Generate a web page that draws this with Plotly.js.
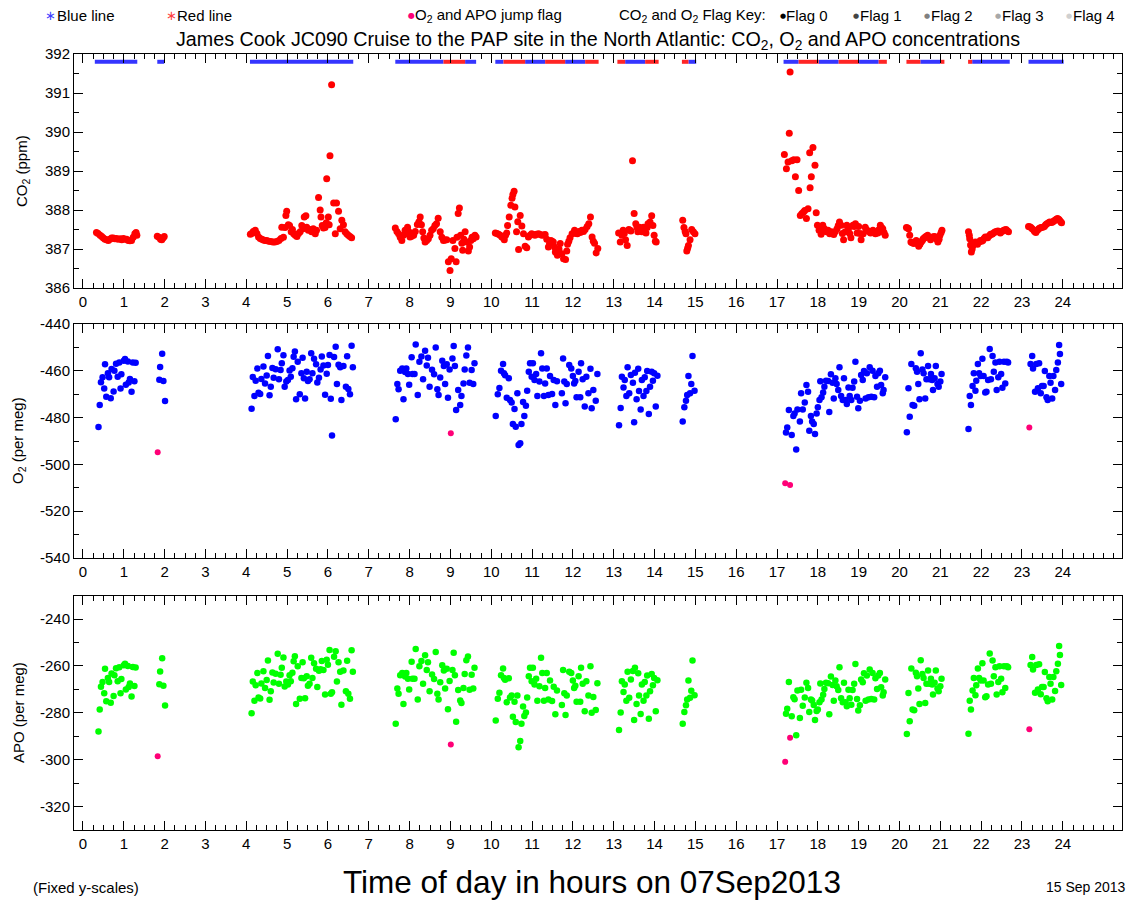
<!DOCTYPE html>
<html>
<head>
<meta charset="utf-8">
<script src="https://cdn.plot.ly/plotly-3.0.1.min.js"></script>
<style>
html,body{margin:0;padding:0;background:#fff;}
#chart{width:1129px;height:901px;}
</style>
</head>
<body>
<div id="chart"></div>
<script>
// ---------------- DATA ----------------
var co2Time = [
0.33,0.37,0.42,0.46,0.50,0.54,0.58,0.62,0.66,0.70,0.74,0.78,0.82,0.86,0.91,0.95,0.99,1.03,1.07,1.11,1.15,1.19,1.23,1.27,1.30,1.32,
1.82,1.86,1.90,1.93,1.96,1.99,
4.10,4.13,4.17,4.22,4.26,4.30,4.34,4.38,4.42,4.46,4.50,4.55,4.60,4.65,4.70,4.75,4.80,4.85,4.87,4.91,4.95,4.97,4.99,5.03,5.06,5.10,5.13,5.16,5.20,5.24,5.28,5.32,5.36,5.39,5.42,5.46,5.48,5.52,5.56,5.60,5.64,5.69,5.72,5.77,5.81,5.83,5.86,5.89,5.93,5.96,5.97,6.01,6.03,6.05,6.09,6.14,6.18,6.21,6.26,6.30,6.34,6.38,6.42,6.46,6.50,6.54,6.58,
7.65,7.69,7.73,7.77,7.81,7.85,7.89,7.92,7.95,7.98,8.01,8.05,8.10,8.14,8.19,8.23,8.26,8.29,8.32,8.35,8.38,8.42,8.46,8.50,8.54,8.58,8.62,8.66,8.70,8.75,8.79,8.83,8.87,8.91,8.95,8.99,9.02,9.06,9.11,9.14,9.16,9.19,9.22,9.25,9.28,9.30,9.33,9.36,9.40,9.44,9.47,9.50,9.53,9.56,9.60,9.63,
10.10,10.14,10.18,10.22,10.26,10.30,10.32,10.35,10.38,10.40,10.44,10.48,10.51,10.53,10.56,10.58,10.62,10.65,10.67,10.71,10.75,10.79,10.83,10.87,10.91,10.95,10.99,11.03,11.07,11.11,11.16,11.20,11.24,11.28,11.32,11.36,11.40,11.43,11.46,11.49,11.52,11.55,11.57,11.62,11.66,11.69,11.73,11.77,11.82,11.85,11.87,11.90,11.93,11.98,12.04,12.08,12.11,12.15,12.18,12.22,12.26,12.30,12.35,12.39,12.43,12.47,12.50,12.53,12.57,12.61,
13.12,13.16,13.20,13.23,13.26,13.29,13.33,13.37,13.40,13.42,13.46,13.50,13.54,13.57,13.59,13.63,13.66,13.69,13.73,13.76,13.79,13.82,13.84,13.89,13.93,13.96,13.99,14.02,14.04,
14.69,14.72,14.75,14.77,14.79,14.81,14.83,14.87,14.91,14.95,14.99,
17.18,17.23,17.27,17.30,17.32,17.36,17.41,17.45,17.49,17.53,17.57,17.61,17.65,17.68,17.72,17.76,17.80,17.81,17.84,17.88,17.93,17.96,17.99,18.03,18.06,18.08,18.12,18.16,18.19,18.21,18.25,18.29,18.33,18.36,18.39,18.43,18.47,18.50,18.53,18.57,18.60,18.63,18.67,18.71,18.75,18.78,18.81,18.86,18.89,18.92,18.96,19.00,19.03,19.06,19.11,19.16,19.19,19.22,19.26,19.29,19.32,19.35,19.38,19.41,19.44,19.47,19.50,19.53,19.56,19.59,19.62,19.65,
20.17,20.20,20.22,20.25,20.28,20.31,20.35,20.38,20.41,20.44,20.47,20.50,20.53,20.56,20.58,20.61,20.63,20.66,20.69,20.72,20.76,20.78,20.81,20.85,20.88,20.91,20.94,20.97,20.99,21.02,21.04,
21.69,21.71,21.72,21.74,21.76,21.78,21.80,21.83,21.86,21.89,21.91,21.95,21.98,22.01,22.04,22.07,22.10,22.13,22.16,22.20,22.23,22.26,22.28,22.32,22.35,22.38,22.41,22.44,22.47,22.51,22.55,22.58,22.61,22.64,22.67,
23.16,23.19,23.22,23.25,23.29,23.31,23.34,23.38,23.41,23.44,23.47,23.51,23.55,23.58,23.61,23.65,23.68,23.72,23.75,23.78,23.81,23.84,23.87,23.90,23.92,23.95,23.97
];
var co2Value = [
387.42,387.40,387.35,387.32,387.28,387.25,387.24,387.22,387.25,387.28,387.28,387.26,387.27,387.25,387.26,387.24,387.27,387.25,387.25,387.22,387.21,387.22,387.30,387.39,387.42,387.35,
387.33,387.30,387.25,387.24,387.28,387.32,
387.38,387.40,387.45,387.48,387.40,387.31,387.27,387.25,387.23,387.22,387.22,387.20,387.19,387.18,387.18,387.19,387.22,387.27,387.56,387.30,387.55,387.86,387.97,387.62,387.60,387.44,387.50,387.39,387.35,387.32,387.40,387.44,387.60,387.52,387.82,387.85,387.56,387.48,387.50,387.44,387.52,387.39,387.48,388.32,388.00,387.82,387.60,387.54,387.55,387.67,388.80,387.82,387.62,389.39,391.21,388.18,387.39,388.18,387.97,387.52,387.74,387.62,387.44,387.39,387.35,387.32,387.29,
387.54,387.45,387.39,387.30,387.22,387.35,387.48,387.40,387.56,387.45,387.31,387.33,387.35,387.45,387.63,387.70,387.82,387.62,387.44,387.28,387.18,387.22,387.26,387.35,387.48,387.52,387.60,387.65,387.79,387.44,387.30,387.22,387.23,387.24,386.67,386.45,386.75,387.22,387.01,386.67,387.30,387.91,388.05,387.35,387.15,386.97,387.25,387.44,387.18,386.95,387.05,387.22,387.30,387.26,387.35,387.31,
387.41,387.40,387.38,387.35,387.31,387.28,387.24,387.35,387.41,387.60,387.82,388.12,388.30,388.40,388.48,388.08,387.44,387.70,386.99,387.86,387.59,387.39,387.07,387.03,387.31,387.35,387.39,387.37,387.35,387.38,387.39,387.37,387.35,387.36,387.37,387.25,387.05,387.15,387.22,387.20,387.18,387.05,386.92,386.84,387.00,387.14,386.88,386.75,386.73,386.95,387.12,387.20,387.29,387.39,387.48,387.40,387.39,387.45,387.42,387.48,387.45,387.50,387.58,387.65,387.82,387.31,387.20,387.15,386.90,387.01,
387.41,387.18,387.35,387.48,387.40,387.24,387.09,387.50,387.48,387.46,389.26,387.91,387.65,387.55,387.44,387.56,387.50,387.44,387.56,387.50,387.41,387.55,387.65,387.69,387.85,387.60,387.35,387.20,387.18,
387.74,387.55,387.45,387.39,386.95,387.02,387.09,387.24,387.50,387.44,387.39,
389.42,389.06,389.23,389.97,391.54,389.26,389.29,388.85,389.29,388.50,387.86,387.91,387.95,387.99,387.78,388.03,389.47,388.57,388.85,389.60,389.15,387.93,387.61,387.48,387.55,387.38,387.61,387.52,387.47,387.44,387.48,387.39,387.44,387.40,387.37,387.45,387.52,387.60,387.69,387.61,387.40,387.24,387.44,387.61,387.52,387.40,387.29,387.61,387.58,387.65,387.41,387.58,387.40,387.24,387.39,387.56,387.50,387.46,387.45,387.41,387.45,387.48,387.44,387.39,387.42,387.41,387.50,387.61,387.55,387.52,387.42,387.35,
387.55,387.54,387.52,387.35,387.18,387.16,387.14,387.18,387.22,387.15,387.07,387.12,387.18,387.22,387.26,387.28,387.31,387.33,387.35,387.30,387.24,387.28,387.31,387.32,387.31,387.25,387.18,387.25,387.35,387.42,387.48,
387.44,387.35,387.26,387.10,386.92,387.00,387.09,387.15,387.18,387.14,387.12,387.18,387.22,387.20,387.22,387.27,387.31,387.30,387.29,387.34,387.38,387.38,387.39,387.42,387.44,387.45,387.46,387.44,387.41,387.45,387.48,387.49,387.50,387.47,387.44,
387.58,387.57,387.55,387.52,387.48,387.45,387.42,387.48,387.52,387.54,387.55,387.56,387.58,387.62,387.65,387.67,387.69,387.68,387.69,387.72,387.74,387.76,387.78,387.76,387.74,387.70,387.67
];

var o2Time = [
0.38,0.41,0.44,0.48,0.52,0.54,0.57,0.61,0.64,0.68,0.70,0.75,0.77,0.81,0.85,0.89,0.92,0.94,1.00,1.03,1.05,1.10,1.12,1.15,1.19,1.22,1.26,1.29,
1.87,1.89,1.94,1.97,2.01,
4.13,4.16,4.20,4.23,4.27,4.30,4.34,4.37,4.42,4.46,4.50,4.53,4.57,4.60,4.64,4.67,4.72,4.77,4.80,4.84,4.87,4.91,4.94,4.98,5.02,5.06,5.09,5.13,5.16,5.19,5.22,5.26,5.31,5.35,5.38,5.41,5.44,5.48,5.51,5.55,5.59,5.62,5.66,5.71,5.74,5.78,5.82,5.85,5.89,5.93,5.97,6.00,6.04,6.07,6.10,6.15,6.19,6.22,6.26,6.30,6.33,6.38,6.44,6.47,6.50,6.54,6.58,6.61,
7.66,7.70,7.73,7.77,7.82,7.85,7.89,7.92,7.96,7.99,8.05,8.07,8.12,8.15,8.20,8.24,8.29,8.33,8.38,8.42,8.45,8.49,8.55,8.60,8.64,8.68,8.71,8.75,8.80,8.84,8.87,8.91,8.94,8.98,9.05,9.08,9.11,9.14,9.19,9.24,9.27,9.32,9.35,9.39,9.43,9.47,9.52,9.56,9.59,
10.11,10.16,10.20,10.24,10.29,10.31,10.34,10.38,10.43,10.46,10.50,10.53,10.57,10.60,10.64,10.67,10.71,10.74,10.78,10.81,10.85,10.88,10.92,10.95,10.99,11.02,11.06,11.10,11.13,11.18,11.22,11.25,11.29,11.32,11.36,11.40,11.44,11.49,11.53,11.57,11.61,11.73,11.76,11.79,11.82,11.85,11.91,11.96,12.00,12.03,12.06,12.09,12.14,12.18,12.20,12.24,12.29,12.33,12.38,12.43,12.46,12.50,12.56,12.60,
13.13,13.17,13.20,13.24,13.27,13.31,13.34,13.38,13.42,13.47,13.50,13.52,13.56,13.60,13.62,13.66,13.69,13.73,13.76,13.80,13.82,13.86,13.89,13.93,13.96,13.99,14.03,14.07,
14.69,14.73,14.77,14.80,14.83,14.87,14.90,14.93,14.98,
17.22,17.25,17.29,17.36,17.40,17.43,17.47,17.50,17.56,17.59,17.63,17.68,17.72,17.76,17.79,17.83,17.86,17.90,17.93,17.97,18.00,18.04,18.06,18.09,18.13,18.16,18.20,18.25,18.28,18.32,18.36,18.39,18.43,18.46,18.50,18.53,18.57,18.61,18.64,18.68,18.71,18.75,18.78,18.82,18.85,18.89,18.92,18.96,18.99,19.03,19.06,19.10,19.13,19.17,19.20,19.24,19.27,19.31,19.34,19.38,19.41,19.45,19.48,19.52,19.55,19.59,19.61,19.65,
20.18,20.22,20.25,20.29,20.32,20.36,20.40,20.43,20.46,20.49,20.52,20.56,20.59,20.63,20.66,20.70,20.73,20.77,20.80,20.82,20.86,20.89,20.93,20.96,21.00,21.03,
21.69,21.72,21.75,21.79,21.82,21.86,21.88,21.92,21.95,21.99,22.03,22.06,22.10,22.13,22.17,22.21,22.24,22.28,22.31,22.35,22.38,22.42,22.45,22.49,22.52,22.56,22.59,22.63,22.66,
23.21,23.25,23.27,23.32,23.35,23.39,23.42,23.46,23.49,23.53,23.56,23.60,23.63,23.67,23.70,23.74,23.77,23.81,23.84,23.88,23.91,23.93,23.96
];
var o2Value = [
-484.0,-474.6,-464.9,-462.8,-467.6,-457.2,-471.1,-461.1,-462.8,-471.7,-459.2,-468.8,-460.0,-457.0,-462.5,-456.5,-467.6,-461.5,-455.7,-455.0,-466.0,-456.0,-465.0,-463.5,-469.0,-456.4,-464.5,-456.6,
-463.8,-458.4,-452.7,-464.4,-472.9,
-476.2,-462.6,-470.8,-464.2,-459.0,-469.4,-469.9,-463.5,-458.2,-465.4,-462.0,-453.7,-470.4,-466.8,-458.8,-463.0,-459.3,-450.8,-463.6,-459.7,-456.8,-453.4,-466.8,-464.6,-463.9,-459.9,-462.5,-458.9,-454.0,-451.8,-472.2,-456.1,-470.0,-461.1,-454.4,-463.2,-471.8,-460.4,-464.4,-463.6,-452.5,-461.1,-454.8,-457.2,-465.0,-463.0,-459.4,-453.9,-457.7,-470.2,-461.3,-457.5,-453.2,-471.9,-487.7,-454.1,-449.7,-465.6,-457.4,-458.5,-472.5,-457.9,-466.8,-453.8,-467.8,-470.0,-449.3,-458.5,
-480.7,-465.6,-467.9,-460.0,-459.0,-472.2,-460.5,-459.0,-461.4,-466.0,-454.2,-461.4,-461.4,-448.8,-470.3,-456.1,-453.9,-463.6,-451.4,-457.7,-454.4,-466.8,-459.6,-461.5,-450.0,-467.9,-470.3,-462.9,-455.7,-457.9,-465.6,-457.2,-471.5,-459.4,-454.7,-449.4,-457.9,-476.8,-468.2,-474.6,-470.8,-465.4,-459.4,-453.5,-450.0,-465.1,-459.7,-465.6,-456.8,
-479.3,-470.0,-467.4,-460.0,-457.1,-461.1,-461.9,-471.5,-463.2,-472.5,-473.6,-482.7,-476.3,-483.9,-469.6,-491.7,-491.0,-482.7,-473.3,-479.3,-474.9,-468.5,-460.4,-456.8,-462.5,-456.8,-463.9,-461.4,-470.8,-464.6,-452.5,-459.0,-470.8,-465.4,-459.0,-470.3,-462.2,-469.9,-463.9,-474.6,-464.5,-469.6,-454.7,-464.6,-473.9,-465.6,-457.5,-459.0,-462.2,-465.4,-464.4,-471.3,-460.4,-471.3,-456.8,-463.6,-475.3,-462.5,-469.6,-459.1,-476.0,-468.2,-472.8,-461.4,
-483.3,-475.9,-462.5,-467.1,-463.9,-470.8,-458.5,-469.6,-461.8,-465.1,-482.0,-460.8,-472.2,-459.1,-468.6,-476.5,-463.9,-470.8,-462.8,-468.6,-460.1,-478.5,-466.8,-460.4,-464.2,-461.1,-475.3,-462.1,
-481.7,-475.6,-472.8,-470.3,-462.2,-469.6,-465.6,-453.7,-468.5,
-486.4,-484.2,-476.8,-487.4,-479.3,-478.2,-493.6,-476.5,-481.7,-469.6,-476.5,-473.5,-466.1,-468.9,-485.6,-479.3,-481.7,-482.7,-487.0,-478.2,-475.6,-472.5,-464.5,-471.3,-469.3,-466.8,-464.2,-464.4,-477.6,-461.5,-465.1,-471.8,-463.2,-465.6,-468.2,-458.5,-470.8,-472.5,-463.2,-472.5,-474.2,-467.1,-470.8,-472.5,-467.2,-464.6,-456.1,-471.1,-476.0,-472.8,-461.8,-463.9,-460.1,-471.8,-461.1,-471.3,-458.5,-471.1,-460.0,-471.3,-462.2,-466.8,-461.1,-460.0,-466.1,-469.6,-468.2,-462.8,
-486.3,-467.5,-479.6,-457.1,-474.6,-474.9,-458.9,-460.4,-465.6,-472.2,-452.5,-459.4,-461.1,-471.8,-463.6,-457.9,-463.6,-461.4,-463.9,-468.2,-463.2,-457.9,-465.6,-466.8,-464.6,-461.4,
-484.9,-470.8,-474.6,-466.5,-461.1,-468.5,-464.2,-457.1,-461.1,-462.2,-454.8,-462.2,-469.3,-468.9,-463.9,-450.7,-463.6,-453.7,-460.4,-456.5,-468.2,-462.8,-456.1,-461.4,-467.2,-456.1,-465.4,-456.1,-456.5,
-457.1,-453.7,-459.0,-468.9,-457.1,-467.5,-456.8,-469.6,-466.5,-466.5,-460.1,-471.3,-472.5,-462.2,-465.1,-471.8,-462.2,-468.2,-459.7,-456.5,-449.0,-452.8,-465.6
];
var apoValue = [
-288.0,-278.6,-268.9,-266.8,-271.6,-261.2,-275.1,-265.1,-266.8,-275.7,-263.2,-272.8,-264.0,-261.0,-266.5,-260.5,-271.6,-265.5,-259.7,-259.0,-270.0,-260.0,-269.0,-267.5,-273.0,-260.4,-268.5,-260.6,
-267.8,-262.4,-256.7,-268.4,-276.9,
-280.2,-266.6,-274.8,-268.2,-263.0,-273.4,-273.9,-267.5,-262.2,-269.4,-266.0,-257.7,-274.4,-270.8,-262.8,-267.0,-263.3,-254.8,-267.6,-263.7,-260.8,-256.4,-268.8,-266.6,-267.9,-263.9,-266.5,-262.9,-258.0,-255.8,-276.2,-260.1,-274.0,-265.1,-258.4,-265.2,-273.8,-264.4,-268.4,-267.6,-256.5,-265.1,-258.8,-261.2,-269.0,-262.0,-261.4,-257.9,-261.7,-272.2,-257.3,-259.5,-253.2,-271.9,-271.2,-256.1,-253.7,-266.6,-258.4,-262.5,-276.5,-261.9,-270.8,-257.8,-271.8,-274.0,-253.3,-262.5,
-284.7,-269.6,-271.9,-264.0,-263.0,-276.2,-264.5,-263.0,-265.4,-270.0,-258.2,-265.4,-265.4,-252.8,-274.3,-260.1,-257.9,-267.6,-255.4,-261.7,-258.4,-270.8,-263.6,-265.5,-254.0,-271.9,-274.3,-266.9,-259.7,-261.9,-269.6,-261.2,-278.5,-266.4,-261.7,-254.4,-263.9,-283.8,-270.2,-274.7,-275.8,-269.4,-263.4,-257.5,-255.9,-270.1,-263.7,-269.6,-260.8,
-283.3,-274.0,-271.4,-264.0,-261.1,-265.1,-265.9,-275.5,-265.2,-273.5,-272.6,-281.7,-275.3,-283.9,-272.6,-294.7,-292.0,-284.7,-277.3,-281.3,-279.9,-273.5,-264.4,-260.8,-266.5,-260.8,-267.9,-265.4,-274.8,-268.6,-256.5,-263.0,-274.8,-269.4,-263.0,-274.3,-266.2,-274.9,-268.9,-280.6,-270.5,-276.6,-261.7,-271.6,-280.9,-272.6,-262.5,-263.0,-266.2,-269.4,-268.4,-275.3,-264.4,-275.3,-260.8,-267.6,-279.3,-266.5,-272.6,-260.1,-280.0,-273.2,-278.8,-267.4,
-287.3,-279.9,-266.5,-271.1,-267.9,-274.8,-262.5,-273.6,-265.8,-262.1,-283.0,-260.8,-276.2,-263.1,-272.6,-280.5,-267.9,-274.8,-266.8,-272.6,-264.1,-282.5,-270.8,-263.4,-268.2,-265.1,-279.3,-266.1,
-284.7,-279.6,-276.8,-274.3,-266.2,-273.6,-270.6,-257.7,-272.5,
-280.4,-278.2,-266.8,-281.4,-273.3,-274.2,-289.6,-270.5,-282.2,-270.1,-277.0,-273.5,-267.1,-269.4,-279.6,-274.3,-274.7,-276.7,-283.0,-279.2,-278.6,-275.5,-267.5,-274.3,-272.3,-269.8,-267.2,-267.4,-280.6,-264.5,-268.1,-274.8,-266.2,-268.6,-270.2,-260.5,-273.8,-275.5,-267.2,-275.5,-277.2,-270.1,-273.8,-276.5,-270.2,-267.6,-259.1,-274.1,-279.0,-276.8,-265.8,-266.9,-263.1,-274.8,-264.1,-274.3,-261.5,-274.1,-263.0,-274.3,-265.2,-269.8,-264.1,-263.0,-269.1,-272.6,-271.2,-265.8,
-289.0,-271.5,-283.6,-261.1,-278.6,-278.9,-262.9,-264.4,-269.6,-276.2,-257.5,-263.4,-265.1,-275.8,-267.6,-261.9,-267.6,-265.4,-267.9,-272.2,-267.2,-261.9,-269.6,-270.8,-268.6,-265.4,
-288.9,-274.8,-278.6,-270.5,-265.1,-272.5,-268.2,-261.1,-265.1,-266.2,-258.8,-266.2,-273.3,-272.9,-267.9,-254.7,-267.6,-257.7,-264.4,-260.5,-272.2,-266.8,-260.1,-265.4,-271.2,-260.1,-269.4,-260.1,-260.5,
-259.6,-256.2,-261.5,-271.4,-259.6,-270.0,-259.3,-272.1,-269.0,-269.0,-262.6,-273.8,-275.0,-264.7,-267.6,-274.3,-264.7,-270.7,-262.2,-259.0,-251.5,-255.3,-268.1
];

// O2 and APO jump flags
var jumpTime = [1.83, 9.01, 17.20, 17.32, 23.18];
var jumpO2 = [-494.8, -486.7, -508.1, -508.8, -484.2];
var jumpAPO = [-298.5, -293.5, -300.9, -290.6, -287.0];

// Blue / red line indicator segments (hours)
var blueStart = [0.29,1.82,4.09,7.65,9.36,10.10,10.83,11.81,13.28,14.83,17.16,18.02,19.01,20.51,21.78,23.16];
var blueEnd   = [1.33,1.99,6.62,8.83,9.63,10.30,11.32,12.30,13.77,15.02,17.53,18.51,19.49,21.00,22.70,24.02];
var redStart  = [8.83,10.30,11.32,12.30,13.09,13.77,14.67,17.53,18.51,19.49,20.17,21.00,21.68];
var redEnd    = [9.36,10.83,11.81,12.63,13.28,14.10,14.83,18.02,19.01,19.69,20.51,21.10,21.78];
var indicatorLevel = 391.8;

// Tick values / labels
var hourTicks = [0,1,2,3,4,5,6,7,8,9,10,11,12,13,14,15,16,17,18,19,20,21,22,23,24];
var hourLabels = ['0','1','2','3','4','5','6','7','8','9','10','11','12','13','14','15','16','17','18','19','20','21','22','23','24'];
var co2Ticks = [386,387,388,389,390,391,392];
var co2Labels = ['386','387','388','389','390','391','392'];
var o2Ticks = [-540,-520,-500,-480,-460,-440];
var o2Labels = ['-540','-520','-500','-480','-460','-440'];
var apoTicks = [-320,-300,-280,-260,-240];
var apoLabels = ['-320','-300','-280','-260','-240'];

// ---------------- BUILD ----------------
function segXY(s, e, lvl) {
  var x = [], y = [];
  for (var i = 0; i < s.length; i++) { x.push(s[i], e[i], null); y.push(lvl, lvl, null); }
  return {x: x, y: y};
}
var bSeg = segXY(blueStart, blueEnd, indicatorLevel);
var rSeg = segXY(redStart, redEnd, indicatorLevel);

var FONT = 'Liberation Sans, Arial, Helvetica, sans-serif';
var traces = [
  {x: bSeg.x, y: bSeg.y, xaxis: 'x', yaxis: 'y', mode: 'lines', line: {color: '#3535ff', width: 4}, hoverinfo: 'skip'},
  {x: rSeg.x, y: rSeg.y, xaxis: 'x', yaxis: 'y', mode: 'lines', line: {color: '#ff2525', width: 4}, hoverinfo: 'skip'},
  {x: co2Time, y: co2Value, xaxis: 'x', yaxis: 'y', mode: 'markers', marker: {color: '#ff0000', size: 7}},
  {x: o2Time, y: o2Value, xaxis: 'x2', yaxis: 'y2', mode: 'markers', marker: {color: '#0000ff', size: 6.5}},
  {x: jumpTime, y: jumpO2, xaxis: 'x2', yaxis: 'y2', mode: 'markers', marker: {color: '#ff0077', size: 6}},
  {x: o2Time, y: apoValue, xaxis: 'x3', yaxis: 'y3', mode: 'markers', marker: {color: '#00ff00', size: 6.5}},
  {x: jumpTime, y: jumpAPO, xaxis: 'x3', yaxis: 'y3', mode: 'markers', marker: {color: '#ff0077', size: 6}}
];

function xAxis(anchor) {
  return {
    anchor: anchor, range: [-0.22, 25.45], tickmode: 'array', tickvals: hourTicks, ticktext: hourLabels,
    ticks: 'inside', ticklen: 9, tickwidth: 1, tickcolor: '#000',
    minor: {dtick: 0.25, tick0: 0, ticks: 'inside', ticklen: 5, tickwidth: 1, tickcolor: '#000'},
    showline: true, linecolor: '#000', linewidth: 1, mirror: 'ticks',
    showgrid: false, zeroline: false, fixedrange: true,
    tickfont: {family: FONT, size: 15, color: '#000'}
  };
}
function yAxis(domain, range, vals, labels, minor, anchor) {
  return {
    anchor: anchor, domain: domain, range: range, tickmode: 'array', tickvals: vals, ticktext: labels,
    ticks: 'inside', ticklen: 9, tickwidth: 1, tickcolor: '#000',
    minor: {dtick: minor, tick0: 0, ticks: 'inside', ticklen: 5, tickwidth: 1, tickcolor: '#000'},
    showline: true, linecolor: '#000', linewidth: 1, mirror: 'ticks',
    showgrid: false, zeroline: false, fixedrange: true,
    tickfont: {family: FONT, size: 15, color: '#000'}
  };
}

var L = 74, R = 1122, T = 54, B = 830;
function px(v) { return (v - L) / (R - L); }
function py(v) { return (B - v) / (B - T); }

function ann(text, x, y, opts) {
  var a = {text: text, xref: 'paper', yref: 'paper', x: px(x), y: py(y), showarrow: false,
           xanchor: 'left', yanchor: 'middle', font: {family: FONT, size: 15, color: '#000'}};
  for (var k in opts) a[k] = opts[k];
  return a;
}

var annotations = [
  ann('James Cook JC090 Cruise to the PAP site in the North Atlantic: CO<sub>2</sub>, O<sub>2</sub> and APO concentrations', 598, 40, {xanchor: 'center', font: {family: FONT, size: 19.7, color: '#000'}}),
  ann('∗', 50, 16, {xanchor: 'center', font: {family: 'DejaVu Sans', size: 13, color: '#4040ff'}}),
  ann('Blue line', 55, 16),
  ann('∗', 171, 16, {xanchor: 'center', font: {family: 'DejaVu Sans', size: 13, color: '#ff4040'}}),
  ann('Red line', 175, 16),
  ann('●', 411, 16, {xanchor: 'center', font: {family: 'DejaVu Sans', size: 8, color: '#ff0077'}}),
  ann('O<sub>2</sub> and APO jump flag', 413, 16),
  ann('CO<sub>2</sub> and O<sub>2</sub> Flag Key:', 617, 16),
  ann('●', 783, 16, {xanchor: 'center', font: {family: 'DejaVu Sans', size: 7, color: '#000000'}}),
  ann('Flag 0', 784, 16),
  ann('●', 856, 16, {xanchor: 'center', font: {family: 'DejaVu Sans', size: 7, color: '#444444'}}),
  ann('Flag 1', 858, 16),
  ann('●', 927, 16, {xanchor: 'center', font: {family: 'DejaVu Sans', size: 7, color: '#808080'}}),
  ann('Flag 2', 929, 16),
  ann('●', 998, 16, {xanchor: 'center', font: {family: 'DejaVu Sans', size: 7, color: '#a8a8a8'}}),
  ann('Flag 3', 1000, 16),
  ann('●', 1069, 16, {xanchor: 'center', font: {family: 'DejaVu Sans', size: 7, color: '#d0d0d0'}}),
  ann('Flag 4', 1071, 16),
  ann('CO<sub>2</sub> (ppm)', 22, 171, {xanchor: 'center', textangle: -90}),
  ann('O<sub>2</sub> (per meg)', 18, 441, {xanchor: 'center', textangle: -90}),
  ann('APO (per meg)', 18, 713, {xanchor: 'center', textangle: -90}),
  ann('Time of day in hours on 07Sep2013', 592, 882, {xanchor: 'center', font: {family: FONT, size: 31.5, color: '#000'}}),
  ann('(Fixed y-scales)', 31, 887, {font: {family: FONT, size: 15, color: '#000'}}),
  ann('15 Sep 2013', 1044, 887, {font: {family: FONT, size: 14, color: '#000'}})
];

var layout = {
  width: 1129, height: 901,
  margin: {l: L, r: 1129 - R, t: T, b: 901 - B, pad: 0},
  paper_bgcolor: '#fff', plot_bgcolor: '#fff',
  showlegend: false,
  xaxis: xAxis('y'), xaxis2: xAxis('y2'), xaxis3: xAxis('y3'),
  yaxis: yAxis([py(288), 1], [386, 392], co2Ticks, co2Labels, 0.5, 'x'),
  yaxis2: yAxis([py(558), py(324)], [-540, -440], o2Ticks, o2Labels, 10, 'x2'),
  yaxis3: yAxis([0, py(595.7)], [-330, -230], apoTicks, apoLabels, 10, 'x3'),
  annotations: annotations,
  font: {family: FONT, color: '#000'}
};

Plotly.newPlot('chart', traces, layout, {displayModeBar: false, staticPlot: true});
</script>
</body>
</html>
